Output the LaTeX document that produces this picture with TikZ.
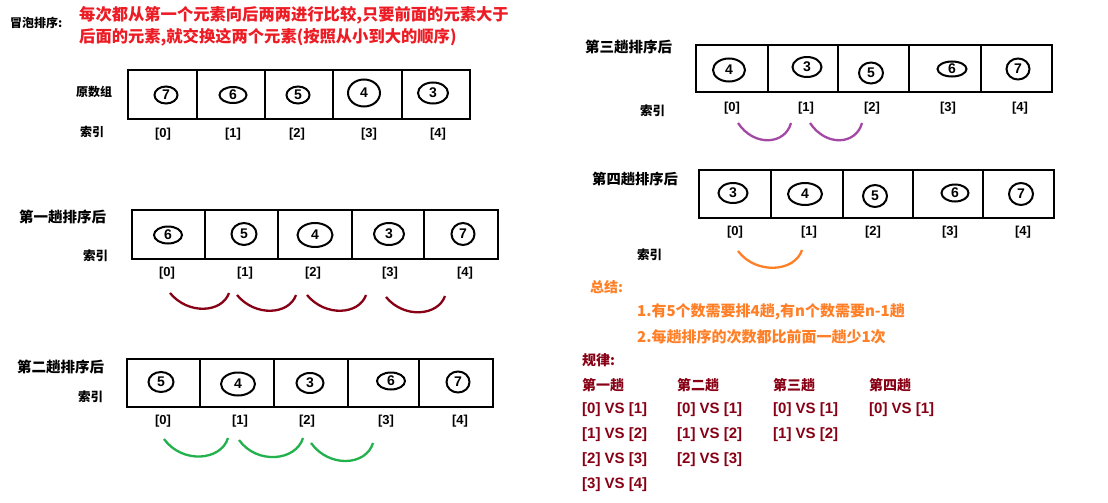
\documentclass[tikz,border=0pt]{standalone}
\usepackage{fontspec}
\setmainfont{Noto Sans CJK SC}
\newfontfamily\arialfont{Liberation Sans}
\usetikzlibrary{shapes.geometric}
\definecolor{paintRed}{HTML}{ED1C24}
\definecolor{paintDark}{HTML}{880015}
\definecolor{paintGreen}{HTML}{22B14C}
\definecolor{paintPurple}{HTML}{A349A4}
\definecolor{paintOrange}{HTML}{FF7F27}
\tikzset{
  cell/.style={rectangle, draw, line width=2.6pt, inner sep=0pt},
  num/.style={ellipse, draw, line width=2pt, inner sep=0pt,
              font=\arialfont\bfseries\fontsize{14}{14}\selectfont},
  idx/.style={inner sep=0pt, font=\arialfont\bfseries\fontsize{13}{13}\selectfont},
  lbl/.style={anchor=west, inner sep=0pt, font=\bfseries\fontsize{14.5}{14.5}\selectfont},
  small/.style={anchor=west, inner sep=0pt, font=\bfseries\fontsize{12}{12}\selectfont},
  vs/.style={anchor=west, inner sep=0pt, text=paintDark,
             font=\arialfont\bfseries\fontsize{15}{15}\selectfont},
  head/.style={anchor=west, inner sep=0pt, text=paintDark,
               font=\bfseries\fontsize{14}{14}\selectfont},
  sum/.style={anchor=west, inner sep=0pt, text=paintOrange,
              font=\bfseries\fontsize{15}{15}\selectfont},
  swapDark/.style={paintDark, line width=2.3pt},
  swapGreen/.style={paintGreen, line width=2.3pt},
  swapPurple/.style={paintPurple, line width=2.3pt},
  swapOrange/.style={paintOrange, line width=2.3pt},
}
\begin{document}
\begin{tikzpicture}[x=1pt, y=-1pt]
  \path[fill=white, use as bounding box] (0,0) rectangle (1108,503);

  % 标题
  \node[small] (title) at (10,23) {冒泡排序:};
  \node[anchor=west, inner sep=0pt, text=paintRed, font=\bfseries\fontsize{16.3}{16.3}\selectfont]
       (desc1) at (79,15) {每次都从第一个元素向后两两进行比较,只要前面的元素大于};
  \node[anchor=west, inner sep=0pt, text=paintRed, font=\bfseries\fontsize{16.3}{16.3}\selectfont]
       (desc2) at (79,37) {后面的元素,就交换这两个元素(按照从小到大的顺序)};

  % 原数组
  \node[small] (r0lbl) at (76,92) {原数组};
  \node[small] (r0key) at (80,132) {索引};
  \foreach \xa/\xb [count=\i from 0] in {128/197,197/265,265/333,333/402,402/470}
    \node[cell, minimum width={\xb-\xa}, minimum height=49] (r0c\i) at ({(\xa+\xb)/2},94.5) {};
  \foreach \v/\x/\y/\w/\h [count=\i from 0] in
      {7/166/95/23/17, 6/233/95/27/16, 5/298/95/23/17, 4/364/93/32/27, 3/433/93/30/21}
    \node[num, minimum width=\w, minimum height=\h] (r0n\i) at (\x,\y) {\v};
  \foreach \x [count=\i from 0] in {163,233,297,369,438}
    \node[idx] (r0i\i) at (\x,134) {[\i]};

  % 第一趟
  \node[lbl] (r1lbl) at (19,217) {第一趟排序后};
  \node[small, font=\bfseries\fontsize{12.5}{12.5}\selectfont] (r1key) at (83,256) {索引};
  \foreach \xa/\xb [count=\i from 0] in {132/205,205/278,278/352,352/424,424/498}
    \node[cell, minimum width={\xb-\xa}, minimum height=49] (r1c\i) at ({(\xa+\xb)/2},234.5) {};
  \foreach \v/\x/\y/\w/\h [count=\i from 0] in
      {6/168/235/28/17, 5/244/234/25/22, 4/315/235/35/24, 3/389/234/30/22, 7/463/234/23/22}
    \node[num, minimum width=\w, minimum height=\h] (r1n\i) at (\x,\y) {\v};
  \foreach \x [count=\i from 0] in {167,245,313,390,465}
    \node[idx] (r1i\i) at (\x,273) {[\i]};
  \foreach \xs/\ys/\xe/\ye [count=\k] in
      {170/293/229/293, 237/295/296/295, 307/295/366/295, 386/297/445/296} {
    \coordinate (r1s\k) at (\xs,\ys);
    \coordinate (r1e\k) at (\xe,\ye);
    \draw[swapDark] (r1s\k) .. controls +(18,22) and +(-7,20) .. (r1e\k);
  }

  % 第二趟
  \node[lbl] (r2lbl) at (17,367) {第二趟排序后};
  \node[small, font=\bfseries\fontsize{12.5}{12.5}\selectfont] (r2key) at (78,397) {索引};
  \foreach \xa/\xb [count=\i from 0] in {127/200,200/274,274/348,348/419,419/493}
    \node[cell, minimum width={\xb-\xa}, minimum height=48] (r2c\i) at ({(\xa+\xb)/2},383) {};
  \foreach \v/\x/\y/\w/\h [count=\i from 0] in
      {5/161/382/25/20, 4/238/384/34/23, 3/310/383/27/20, 6/391/381/28/17, 7/458/382/23/21}
    \node[num, minimum width=\w, minimum height=\h] (r2n\i) at (\x,\y) {\v};
  \foreach \x [count=\i from 0] in {163,240,307,386,460}
    \node[idx] (r2i\i) at (\x,421) {[\i]};
  \foreach \xs/\ys/\xe/\ye [count=\k] in
      {164/439/228/438, 239/440/303/438, 311/443/373/443} {
    \coordinate (r2s\k) at (\xs,\ys);
    \coordinate (r2e\k) at (\xe,\ye);
    \draw[swapGreen] (r2s\k) .. controls +(18,25) and +(-7,23) .. (r2e\k);
  }

  % 第三趟
  \node[lbl] (r3lbl) at (585,47) {第三趟排序后};
  \node[small, font=\bfseries\fontsize{12.5}{12.5}\selectfont] (r3key) at (640,111) {索引};
  \foreach \xa/\xb [count=\i from 0] in {696/768,768/838,838/909,909/981,981/1052}
    \node[cell, minimum width={\xb-\xa}, minimum height=47] (r3c\i) at ({(\xa+\xb)/2},68.5) {};
  \foreach \v/\x/\y/\w/\h [count=\i from 0] in
      {4/729/70/32/23, 3/807/67/29/20, 5/871/73/24/21, 6/952/69/29/15, 7/1018/69/23/21}
    \node[num, minimum width=\w, minimum height=\h] (r3n\i) at (\x,\y) {\v};
  \foreach \x [count=\i from 0] in {732,806,872,948,1020}
    \node[idx] (r3i\i) at (\x,108) {[\i]};
  \foreach \xs/\ys/\xe/\ye [count=\k] in {738/123/791/123, 810/123/862/123} {
    \coordinate (r3s\k) at (\xs,\ys);
    \coordinate (r3e\k) at (\xe,\ye);
    \draw[swapPurple] (r3s\k) .. controls +(16,24) and +(-6,22) .. (r3e\k);
  }

  % 第四趟
  \node[lbl, font=\bfseries\fontsize{14.3}{14.3}\selectfont] (r4lbl) at (592,179) {第四趟排序后};
  \node[small, font=\bfseries\fontsize{12.5}{12.5}\selectfont] (r4key) at (637,255) {索引};
  \foreach \xa/\xb [count=\i from 0] in {699/771,771/843,843/913,913/983,983/1054}
    \node[cell, minimum width={\xb-\xa}, minimum height=48] (r4c\i) at ({(\xa+\xb)/2},194) {};
  \foreach \v/\x/\y/\w/\h [count=\i from 0] in
      {3/733/193/29/20, 4/805/194/34/22, 5/875/196/24/22, 6/955/193/27/17, 7/1021/194/24/22}
    \node[num, minimum width=\w, minimum height=\h] (r4n\i) at (\x,\y) {\v};
  \foreach \x [count=\i from 0] in {735,809,873,950,1023}
    \node[idx] (r4i\i) at (\x,232) {[\i]};
  \coordinate (r4s1) at (738,251);
  \coordinate (r4e1) at (802,250);
  \draw[swapOrange] (r4s1) .. controls +(18,24) and +(-7,22) .. (r4e1);

  % 总结
  \node[sum, font=\bfseries\fontsize{14}{14}\selectfont] (sumT) at (590,287) {总结:};
  \node[sum] (sum1) at (637,312) {1.有5个数需要排4趟,有n个数需要n-1趟};
  \node[sum] (sum2) at (637,337) {2.每趟排序的次数都比前面一趟少1次};

  % 规律
  \node[head] (lawT) at (582,360) {规律:};
  \foreach \x/\t [count=\c] in {582/第一趟, 677/第二趟, 773/第三趟, 869/第四趟}
    \node[head] (h\c) at (\x,385) {\t};
  \foreach \x/\n [count=\c] in {582/3, 677/2, 773/1, 869/0}
    \foreach \r in {0,...,\n} {
      \pgfmathtruncatemacro\rnext{\r+1}
      \node[vs] (v\c\r) at (\x,{410+25*\r}) {[\r] VS [\rnext]};
    }
\end{tikzpicture}
\end{document}
